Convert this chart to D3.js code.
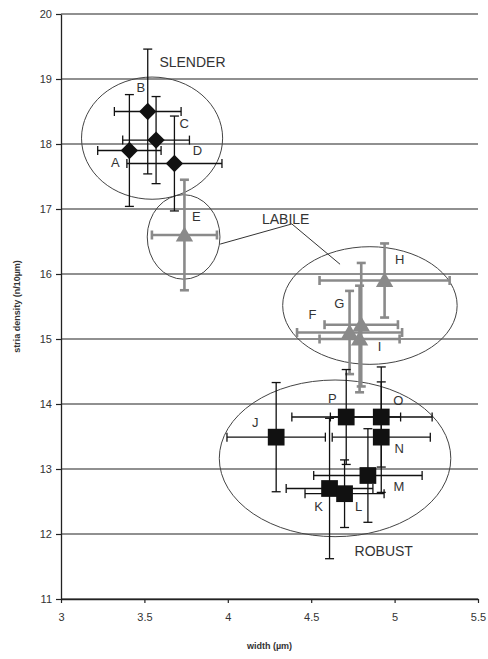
<!DOCTYPE html>
<html>
<head>
<meta charset="utf-8">
<script src="https://cdn.jsdelivr.net/npm/d3@7"></script>
<style>
  body { margin: 0; background: #fff; }
  svg { font-family: "Liberation Sans", Arial, sans-serif; }
</style>
</head>
<body>
<svg id="chart" width="488" height="659"></svg>
<script>
// -------------------- DATA --------------------
const names      = ["A", "B", "C", "D", "E", "F", "G", "H", "I", "J", "K", "L", "M", "N", "O", "P"];
const groups     = ["slender", "slender", "slender", "slender", "labile", "labile", "labile", "labile", "labile",
                    "robust", "robust", "robust", "robust", "robust", "robust", "robust"];
const widths     = [3.41, 3.52, 3.57, 3.68, 3.74, 4.73, 4.80, 4.94, 4.79, 4.29, 4.61, 4.70, 4.84, 4.92, 4.92, 4.71];
const densities  = [17.90, 18.50, 18.06, 17.70, 16.60, 15.10, 15.22, 15.90, 15.00, 13.49, 12.70, 12.62, 12.90, 13.49, 13.80, 13.80];
const widthErr   = [0.19, 0.20, 0.20, 0.285, 0.195, 0.315, 0.22, 0.39, 0.24, 0.295, 0.26, 0.237, 0.325, 0.294, 0.305, 0.326];
const densityErr = [0.86, 0.96, 0.67, 0.73, 0.85, 0.64, 0.95, 0.57, 0.82, 0.84, 1.08, 0.52, 0.72, 0.85, 0.77, 0.73];

const yTicks = [11, 12, 13, 14, 15, 16, 17, 18, 19, 20];
const xTicks = [3, 3.5, 4, 4.5, 5, 5.5];

// group ellipses (data units)
const ellipseCx = [3.546, 3.735, 4.852, 4.643];
const ellipseCy = [18.09, 16.57, 15.515, 13.164];
const ellipseRx = [0.423, 0.218, 0.523, 0.694];
const ellipseRy = [0.94, 0.65, 0.905, 1.205];

const groupLabels = ["SLENDER", "LABILE", "ROBUST"];

// -------------------- LAYOUT --------------------
const svg = d3.select("#chart");

const x = d3.scaleLinear().domain([3, 5.5]).range([61, 478]);
const y = d3.scaleLinear().domain([11, 20]).range([599, 14]);

// label offsets in px from marker centre
const labelOffset = {
  A: [-14, 12], B: [-7, -24], C: [28, -17], D: [23, -13], E: [12, -19],
  F: [-37, -18], G: [-22, -21], H: [15, -21], I: [20, 7],
  J: [-21, -15], K: [-11, 18], L: [14, 13], M: [31, 11], N: [18, 11],
  O: [17, -17], P: [-14, -19]
};

// -------------------- GRID --------------------
svg.append("g")
  .selectAll("line")
  .data(yTicks)
  .enter()
  .append("line")
  .attr("x1", x(3)).attr("x2", x(5.5))
  .attr("y1", d => y(d)).attr("y2", d => y(d))
  .attr("stroke", "#222")
  .attr("stroke-width", 1.1);

// -------------------- AXES --------------------
const yAxis = svg.append("g")
  .attr("transform", `translate(${x(3)},0)`)
  .call(d3.axisLeft(y).tickValues(yTicks).tickSize(5).tickSizeOuter(0).tickFormat(d3.format("d")));
const xAxis = svg.append("g")
  .attr("transform", `translate(0,${y(11)})`)
  .call(d3.axisBottom(x).tickValues(xTicks).tickSize(4).tickSizeOuter(0).tickFormat(d => d));

[yAxis, xAxis].forEach(a => {
  a.select(".domain").attr("stroke", "#222").attr("stroke-width", 1.3);
  a.selectAll(".tick line").attr("stroke", "#222").attr("stroke-width", 1.2);
  a.selectAll("text")
    .attr("fill", "#333")
    .style("font-size", "11px")
    .style("font-family", "Liberation Sans, Arial, sans-serif");
});
yAxis.selectAll("text").attr("x", -9);
xAxis.selectAll("text").attr("y", 14);

svg.append("text")
  .attr("transform", `translate(20,${(y(11) + y(20)) / 2}) rotate(-90)`)
  .attr("text-anchor", "middle")
  .style("font-size", "9px")
  .style("font-weight", "bold")
  .attr("fill", "#333")
  .text("stria density (n/10µm)");

svg.append("text")
  .attr("x", (x(3) + x(5.5)) / 2)
  .attr("y", 649)
  .attr("text-anchor", "middle")
  .style("font-size", "9px")
  .style("font-weight", "bold")
  .attr("fill", "#333")
  .text("width (µm)");

// -------------------- ELLIPSES --------------------
svg.append("g")
  .selectAll("ellipse")
  .data(ellipseCx.map((cx, i) => i))
  .enter()
  .append("ellipse")
  .attr("cx", i => x(ellipseCx[i]))
  .attr("cy", i => y(ellipseCy[i]))
  .attr("rx", i => x(ellipseCx[i] + ellipseRx[i]) - x(ellipseCx[i]))
  .attr("ry", i => y(ellipseCy[i]) - y(ellipseCy[i] + ellipseRy[i]))
  .attr("fill", "none")
  .attr("stroke", "#444")
  .attr("stroke-width", 1);

// LABILE connector lines
const connector = [[3.954, 16.46], [4.384, 16.77], [4.673, 16.15]];
svg.append("path")
  .attr("d", d3.line().x(d => x(d[0])).y(d => y(d[1]))(connector))
  .attr("fill", "none")
  .attr("stroke", "#333")
  .attr("stroke-width", 1);

// group labels
const groupLabelPos = [[3.59, 19.26], [4.205, 16.84], [4.76, 11.73]];
svg.append("g")
  .selectAll("text")
  .data(groupLabels)
  .enter()
  .append("text")
  .attr("x", (d, i) => x(groupLabelPos[i][0]))
  .attr("y", (d, i) => y(groupLabelPos[i][1]))
  .attr("dy", "0.35em")
  .style("font-size", "14px")
  .attr("fill", "#333")
  .text(d => d);

// -------------------- POINTS --------------------
const pts = names.map((n, i) => ({
  name: n, group: groups[i], w: widths[i], d: densities[i], we: widthErr[i], de: densityErr[i]
}));

const colorOf = g => g === "labile" ? "#8a8a8a" : "#111";
const cap = 4.5;

const bars = svg.append("g")
  .selectAll("g")
  .data(pts)
  .enter()
  .append("g")
  .attr("stroke", d => colorOf(d.group))
  .attr("stroke-width", d => d.group === "labile" ? 2.6 : 1.3);

// vertical
bars.append("line")
  .attr("x1", d => x(d.w)).attr("x2", d => x(d.w))
  .attr("y1", d => y(d.d + d.de)).attr("y2", d => y(d.d - d.de));
bars.append("line")
  .attr("x1", d => x(d.w) - cap).attr("x2", d => x(d.w) + cap)
  .attr("y1", d => y(d.d + d.de)).attr("y2", d => y(d.d + d.de));
bars.append("line")
  .attr("x1", d => x(d.w) - cap).attr("x2", d => x(d.w) + cap)
  .attr("y1", d => y(d.d - d.de)).attr("y2", d => y(d.d - d.de));
// horizontal
bars.append("line")
  .attr("x1", d => x(d.w - d.we)).attr("x2", d => x(d.w + d.we))
  .attr("y1", d => y(d.d)).attr("y2", d => y(d.d));
bars.append("line")
  .attr("x1", d => x(d.w - d.we)).attr("x2", d => x(d.w - d.we))
  .attr("y1", d => y(d.d) - cap).attr("y2", d => y(d.d) + cap);
bars.append("line")
  .attr("x1", d => x(d.w + d.we)).attr("x2", d => x(d.w + d.we))
  .attr("y1", d => y(d.d) - cap).attr("y2", d => y(d.d) + cap);

// markers: diamond = rotated square
const symbolOf = g => g === "labile" ? d3.symbolTriangle : d3.symbolSquare;
const sizeOf = g => g === "slender" ? 150 : (g === "labile" ? 130 : 280);

svg.append("g")
  .selectAll("path")
  .data(pts)
  .enter()
  .append("path")
  .attr("transform", d => `translate(${x(d.w)},${y(d.d) + (d.group === "labile" ? 1.5 : 0)})` + (d.group === "slender" ? " rotate(45)" : ""))
  .attr("d", d => d3.symbol().type(symbolOf(d.group)).size(sizeOf(d.group))())
  .attr("fill", d => colorOf(d.group));

// point labels
svg.append("g")
  .selectAll("text")
  .data(pts)
  .enter()
  .append("text")
  .attr("x", d => x(d.w) + labelOffset[d.name][0])
  .attr("y", d => y(d.d) + labelOffset[d.name][1])
  .attr("dy", "0.35em")
  .attr("text-anchor", "middle")
  .style("font-size", "13px")
  .attr("fill", "#333")
  .text(d => d.name);
</script>
</body>
</html>
